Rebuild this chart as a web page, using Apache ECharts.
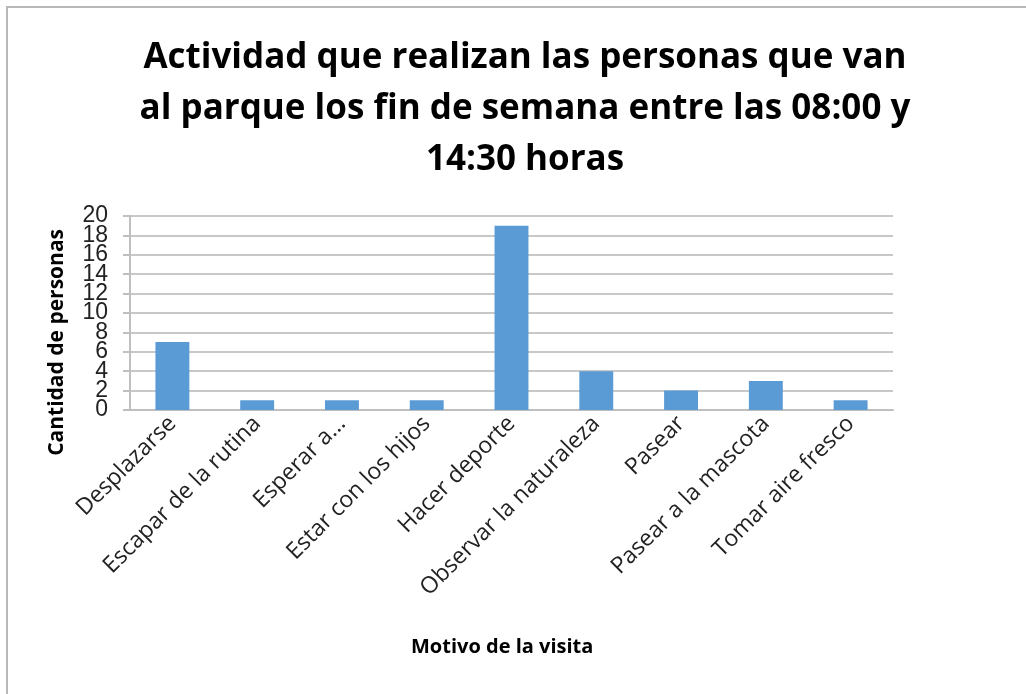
<!DOCTYPE html>
<html>
<head>
<meta charset="utf-8">
<script src="https://cdn.jsdelivr.net/npm/echarts@6/dist/echarts.min.js"></script>
<style>
  html, body { margin: 0; padding: 0; background: #fff; }
  .com-container { position: absolute; left: 6px; top: 6px; width: 1030px; height: 700px;
    border-left: 2px solid #b8b8b8; border-top: 2px solid #b8b8b8; box-sizing: border-box; }
  .com-chart { position: absolute; left: 0; top: 0; width: 1026px; height: 694px; }
</style>
</head>
<body>
<div class="com-container"></div>
<div class="com-chart" id="barChart"></div>
<script>
const categories = [
  "Desplazarse", "Escapar de la rutina", "Esperar a...", "Estar con los hijos",
  "Hacer deporte", "Observar la naturaleza", "Pasear", "Pasear a la mascota", "Tomar aire fresco"
];
const personas = [7, 1, 1, 1, 19, 4, 2, 3, 1];
const yMin = 0;
const yMax = 20;
const yStep = 2;
const titleLines = [
  "Actividad que realizan las personas que van",
  "al parque los fin de semana entre las 08:00 y",
  "14:30 horas"
];
const yAxisTitle = "Cantidad de personas";
const xAxisTitle = "Motivo de la visita";

const chartInstance = echarts.init(document.getElementById("barChart"));
const font = "Open Sans";
const yLabelStyle = {
  color: "#222",
  fontFamily: "Liberation Sans",
  fontSize: 23,
  margin: 22,
};
const option = {
  animation: false,
  title: {
    text: titleLines.join("\n"),
    left: 520,
    textAlign: "center",
    top: 28,
    textStyle: {
      fontFamily: font,
      fontSize: 35,
      fontWeight: "bold",
      color: "#000",
      lineHeight: 51,
    },
  },
  grid: {
    left: 130,
    right: 133,
    top: 216,
    bottom: 284,
  },
  xAxis: {
    type: "category",
    data: categories,
    axisLine: { lineStyle: { color: "#bfbfbf", width: 2 } },
    axisTick: { length: 6, lineStyle: { color: "#bfbfbf", width: 2 } },
    axisLabel: {
      interval: 0,
      rotate: 45,
      margin: 10,
      color: "#222",
      fontFamily: font,
      fontSize: 23,
    },
  },
  // the labels sit closer than their height, so they are split over two
  // axes on the same place: one for 0,4,...,20 and one for 2,6,...,18
  yAxis: [
    {
      type: "value",
      position: "left",
      min: yMin,
      max: yMax,
      interval: yStep * 2,
      axisLine: { show: true, lineStyle: { color: "#bfbfbf", width: 2 } },
      axisTick: { show: true, length: 7, lineStyle: { color: "#bfbfbf", width: 2 } },
      axisLabel: Object.assign({ showMinLabel: true, showMaxLabel: true }, yLabelStyle),
      splitLine: { show: false },
    },
    {
      type: "value",
      position: "left",
      offset: 0,
      min: yMin,
      max: yMax,
      interval: yStep,
      axisLine: { show: false },
      axisTick: { show: true, length: 7, lineStyle: { color: "#bfbfbf", width: 2 } },
      axisLabel: Object.assign({
        showMinLabel: false,
        showMaxLabel: false,
        formatter: (v) => (v % (yStep * 2) === 0 ? "" : String(v)),
      }, yLabelStyle),
      splitLine: { show: true, lineStyle: { color: "#c8c8c8", width: 2 } },
    },
  ],
  graphic: [
    {
      type: "text",
      left: 47,
      top: 229,
      rotation: Math.PI / 2,
      style: {
        text: yAxisTitle,
        fontFamily: font,
        fontSize: 21,
        fontWeight: "bold",
        fill: "#000",
      },
    },
    {
      type: "text",
      left: 411,
      top: 637,
      style: {
        text: xAxisTitle,
        fontFamily: font,
        fontSize: 20,
        fontWeight: "bold",
        fill: "#000",
      },
    },
  ],
  series: [
    {
      type: "bar",
      yAxisIndex: 0,
      data: personas,
      barWidth: "40%",
      itemStyle: { color: "#5b9bd5" },
    },
  ],
};
chartInstance.setOption(option);
</script>
</body>
</html>
